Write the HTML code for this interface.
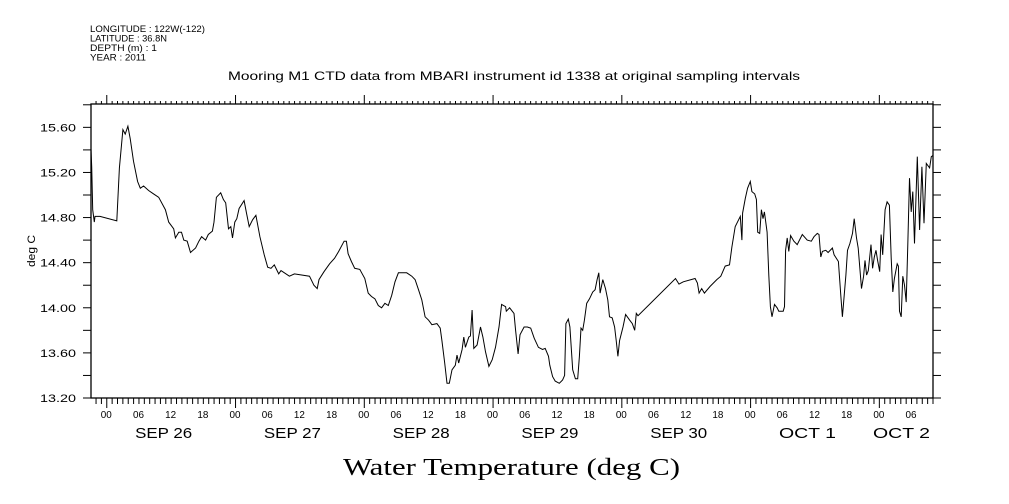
<!DOCTYPE html>
<html><head><meta charset="utf-8">
<style>
html,body{margin:0;padding:0;background:#fff;}
svg{display:block;font-family:"Liberation Sans",sans-serif;}
</style></head>
<body>
<svg id="chart" width="1009" height="504" viewBox="0 0 1009 504" xmlns="http://www.w3.org/2000/svg">
<g font-size="9" fill="#000">
<text x="90" y="32" textLength="115" lengthAdjust="spacingAndGlyphs">LONGITUDE : 122W(-122)</text>
<text x="90" y="41.5" textLength="77" lengthAdjust="spacingAndGlyphs">LATITUDE : 36.8N</text>
<text x="90" y="51" textLength="67" lengthAdjust="spacingAndGlyphs">DEPTH (m) : 1</text>
<text x="90" y="60.5" textLength="56" lengthAdjust="spacingAndGlyphs">YEAR : 2011</text>
</g>
<text x="228" y="80" textLength="572" lengthAdjust="spacingAndGlyphs" font-size="12">Mooring M1 CTD data from MBARI instrument id 1338 at original sampling intervals</text>
<text x="343" y="475" textLength="337" lengthAdjust="spacingAndGlyphs" font-size="24" font-family="Liberation Serif, serif">Water Temperature (deg C)</text>
<text transform="translate(35,251) rotate(-90)" text-anchor="middle" font-size="11" textLength="32" lengthAdjust="spacingAndGlyphs">deg C</text>
<g id="axes"></g>
<g id="plot"></g>
</svg>
<script>
const hours = [-2.94,-2.81,-2.62,-2.32,-2.19,-1.26,1.87,2.36,3.00,3.43,3.94,4.37,4.99,5.74,6.24,6.86,7.80,8.73,9.67,10.93,11.55,12.48,12.80,13.42,13.93,14.36,14.99,15.61,16.55,17.17,17.67,18.42,18.93,19.68,19.98,20.43,21.24,21.74,22.17,22.68,23.11,23.43,23.86,24.23,24.67,25.60,26.05,26.54,27.18,27.80,28.55,29.35,29.99,30.61,31.23,32.05,32.48,34.04,34.97,37.79,38.61,39.23,39.55,40.48,41.53,42.47,43.22,44.23,44.66,44.98,45.60,46.22,47.16,
48.09,48.73,49.35,49.97,50.61,51.22,51.84,52.48,53.10,53.72,54.35,55.91,56.85,57.47,58.10,58.72,59.34,59.98,60.60,61.53,62.15,62.47,62.98,63.41,63.84,64.35,64.96,65.28,65.60,66.22,66.54,66.84,67.47,67.78,68.09,68.41,69.03,69.65,70.10,70.59,71.22,71.84,72.46,73.10,73.59,74.33,74.47,75.09,75.91,76.21,76.66,77.03,77.78,78.40,79.02,79.66,80.46,81.21,81.72,82.34,82.58,83.09,83.59,84.34,84.96,85.34,85.58,86.03,86.33,86.84,87.34,87.77,88.09,88.39,88.71,89.03,89.46,89.97,90.58,91.02,91.39,91.71,91.95,92.46,92.96,93.39,93.71,94.20,94.65,94.95,95.27,95.59,96.21,96.71,97.46,97.95,98.40,98.70,99.02,
106.01,106.65,107.45,109.65,110.08,110.40,110.88,111.39,112.46,113.70,114.44,115.27,116.07,116.51,117.14,117.76,118.08,118.38,118.51,119.02,119.45,119.95,120.25,120.76,121.08,121.32,121.70,122.02,122.32,122.58,123.07,123.39,123.70,124.00,124.45,124.94,125.26,126.07,126.33,126.52,126.82,127.13,127.45,128.07,128.69,129.63,130.56,131.31,131.82,132.44,132.76,133.08,133.38,134.01,134.44,135.25,135.57,136.37,136.82,137.12,137.44,137.76,138.06,138.51,139.00,139.32,139.75,140.06,140.68,141.06,141.32,141.62,141.94,142.45,142.75,143.06,143.38,143.68,144.06,144.32,144.62,145.07,145.45,145.88,146.20,146.50,146.81,147.32,147.56,147.75,148.07,148.37,148.69,149.01,149.31,149.62,149.94,150.24,150.56,151.07,151.51,151.94,152.32,152.75,153.37,153.69,153.99];
const temps = [15.41,15.25,14.87,14.76,14.81,14.81,14.77,15.24,15.58,15.54,15.61,15.50,15.30,15.12,15.06,15.08,15.04,15.01,14.98,14.87,14.76,14.70,14.62,14.67,14.67,14.60,14.59,14.49,14.53,14.59,14.63,14.60,14.65,14.68,14.76,14.98,15.02,14.96,14.93,14.70,14.72,14.62,14.76,14.79,14.88,14.95,14.84,14.72,14.78,14.82,14.63,14.47,14.36,14.35,14.38,14.30,14.33,14.28,14.30,14.28,14.20,14.17,14.25,14.32,14.39,14.44,14.50,14.59,14.59,14.48,14.41,14.35,14.34,
14.26,14.13,14.10,14.08,14.02,14.00,14.04,14.02,14.11,14.23,14.31,14.31,14.28,14.25,14.16,14.07,13.92,13.89,13.85,13.86,13.82,13.71,13.51,13.33,13.33,13.45,13.49,13.58,13.51,13.63,13.74,13.65,13.74,13.75,13.98,13.64,13.67,13.83,13.74,13.61,13.48,13.54,13.65,13.83,14.03,14.01,13.97,14.00,13.95,13.80,13.59,13.76,13.83,13.83,13.82,13.73,13.65,13.63,13.64,13.57,13.49,13.39,13.35,13.33,13.36,13.40,13.86,13.90,13.83,13.45,13.37,13.37,13.57,13.82,13.80,13.89,14.04,14.08,14.14,14.16,14.25,14.31,14.13,14.25,14.17,14.07,13.92,13.91,13.83,13.71,13.57,13.71,13.83,13.94,13.89,13.86,13.80,13.95,13.93,
14.26,14.21,14.23,14.26,14.22,14.13,14.17,14.13,14.19,14.25,14.28,14.37,14.38,14.54,14.72,14.78,14.81,14.60,14.84,14.97,15.06,15.12,15.03,15.01,14.96,14.67,14.66,14.87,14.79,14.85,14.67,14.29,14.01,13.92,14.03,14.00,13.97,13.97,14.01,14.51,14.62,14.50,14.64,14.59,14.56,14.65,14.60,14.59,14.63,14.66,14.65,14.45,14.50,14.51,14.49,14.53,14.47,14.41,14.11,13.92,14.11,14.29,14.51,14.57,14.66,14.79,14.62,14.53,14.17,14.28,14.42,14.29,14.33,14.56,14.35,14.45,14.51,14.42,14.32,14.65,14.47,14.87,14.94,14.91,14.44,14.14,14.26,14.39,14.37,13.97,13.92,14.28,14.20,14.05,14.56,15.15,14.85,15.03,14.57,15.34,14.69,15.25,14.75,15.28,15.24,15.34,15.35];
const yTicks = [13.20,13.60,14.00,14.40,14.80,15.20,15.60];
const hourLabels = ["00","06","12","18"];
const dayLabels = ["SEP 26","SEP 27","SEP 28","SEP 29","SEP 30","OCT  1","OCT  2"];

const L=91,R=933,T=104,B=398;
const hMin=-2.94, hMax=154.0, tMin=13.20, tMax=15.807;
const xs=h=>L+(h-hMin)/(hMax-hMin)*(R-L);
const ys=t=>B-(t-tMin)/(tMax-tMin)*(B-T);
const NS="http://www.w3.org/2000/svg";
const axes=document.getElementById('axes'), plot=document.getElementById('plot');
function mk(tag,attrs,parent){const e=document.createElementNS(NS,tag);for(const k in attrs)e.setAttribute(k,attrs[k]);parent.appendChild(e);return e;}

const frame=mk('rect',{x:L,y:T,width:R-L,height:B-T,fill:'none',stroke:'#000','stroke-width':1.3},axes);



for(let h=Math.ceil(hMin);h<=hMax;h++){
  const x=xs(h); const major=(h%24===0);
  const len=major?10:6;
  const b=mk('line',{x1:x,y1:B,x2:x,y2:B+len,stroke:'#000','stroke-width':1},axes);
  
  
  const t=mk('line',{x1:x,y1:T,x2:x,y2:T-(major?9:3),stroke:'#000','stroke-width':1},axes);
  
  
  if(h%6===0){
    const lb=mk('text',{x:x-6,y:418,'font-size':10,textLength:11,lengthAdjust:'spacingAndGlyphs'},axes);
    lb.textContent=hourLabels[((h/6)%4+4)%4];
    
    
  }
}
dayLabels.forEach((d,i)=>{
  let x=xs(i*24+12)-36;
  if(x+57>R) x=873;
  const lb=mk('text',{x:x,y:438,'font-size':15,textLength:57,lengthAdjust:'spacingAndGlyphs','xml:space':'preserve'},axes);
  lb.textContent=d;
  
  
});
for(let k=0;k<=13;k++){
  const v=13.2+k*0.2; if(v>tMax) break; const y=ys(v);
  const a=mk('line',{x1:L-8,y1:y,x2:L,y2:y,stroke:'#000','stroke-width':1},axes);
  
  
  const c=mk('line',{x1:R,y1:y,x2:R+8,y2:y,stroke:'#000','stroke-width':1},axes);
  
  
}
yTicks.forEach(v=>{
  const lb=mk('text',{x:40,y:ys(v)+4,'font-size':11,textLength:36,lengthAdjust:'spacingAndGlyphs'},axes);
  lb.textContent=v.toFixed(2);
  
  
});
const pts=hours.map((h,i)=>xs(h).toFixed(1)+','+ys(temps[i]).toFixed(1)).join(' ');
const line=mk('polyline',{points:pts,fill:'none',stroke:'#000','stroke-width':1,'stroke-linejoin':'miter'},plot);


</script>
</body></html>
